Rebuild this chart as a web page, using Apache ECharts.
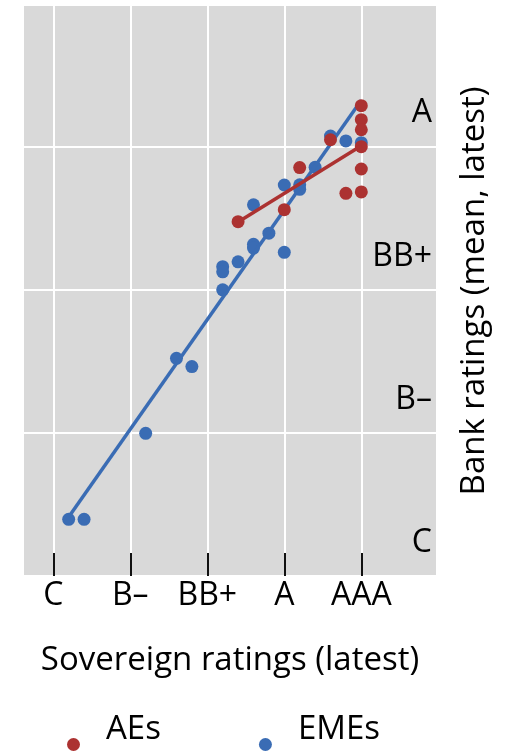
<!DOCTYPE html>
<html>
<head>
<meta charset="utf-8">
<script src="https://cdn.jsdelivr.net/npm/echarts@6/dist/echarts.min.js"></script>
<style>
  html, body { margin: 0; padding: 0; background: #ffffff; }
  #chart { width: 507px; height: 752px; }
</style>
</head>
<body>
<div id="chart"></div>
<script>
// Rating scale in notches: C = 0 ... AAA = 20
const ratingTickValues = [0, 5, 10, 15, 20];
const sovereignTickLabels = ['C', 'B–', 'BB+', 'A', 'AAA'];
const bankTickValues = [0, 5, 10, 15];
const bankTickLabels = ['C', 'B–', 'BB+', 'A'];

// Advanced economies: sovereign rating (x) vs mean bank rating (y)
const aeSovereign = [20, 20, 20, 20, 20, 20, 19, 18, 16, 15, 12];
const aeBank = [16.42, 15.93, 15.58, 14.99, 14.21, 13.41, 13.36, 15.23, 14.26, 12.79, 12.37];

// Emerging market economies
const emeSovereign = [18, 19, 20, 17, 16, 16, 15, 15, 13, 14, 13, 13, 12, 11, 11, 11, 8, 9, 6, 1, 2];
const emeBank = [15.36, 15.19, 15.13, 14.27, 13.66, 13.50, 13.65, 11.30, 12.96, 11.97, 11.58, 11.45,
                 10.97, 10.80, 10.62, 9.99, 7.60, 7.31, 4.98, 1.98, 1.98];

const RED = '#AC3231';
const BLUE = '#3A6CB4';
const FONT = '"Open Sans", "Noto Sans", sans-serif';

function pairs(xs, ys) {
  return xs.map((x, i) => [x, ys[i]]);
}

// Least-squares line drawn across the range of the group's sovereign ratings
function fitLine(xs, ys) {
  const n = xs.length;
  const mx = xs.reduce((a, b) => a + b, 0) / n;
  const my = ys.reduce((a, b) => a + b, 0) / n;
  let sxy = 0, sxx = 0;
  for (let i = 0; i < n; i++) {
    sxy += (xs[i] - mx) * (ys[i] - my);
    sxx += (xs[i] - mx) * (xs[i] - mx);
  }
  const slope = sxy / sxx;
  const x0 = Math.min(...xs), x1 = Math.max(...xs);
  return [[x0, my + slope * (x0 - mx)], [x1, my + slope * (x1 - mx)]];
}

const chart = echarts.init(document.getElementById('chart'), null, { renderer: 'canvas' });

chart.setOption({
  animation: false,
  backgroundColor: '#ffffff',
  textStyle: { fontFamily: FONT },
  grid: {
    left: 24, top: 6, width: 412, height: 570,
    show: true, backgroundColor: '#D9D9D9', borderWidth: 0
  },
  xAxis: {
    type: 'value',
    min: -1.9, max: 24.85,
    name: 'Sovereign ratings (latest)',
    nameLocation: 'middle',
    nameGap: 68,
    nameTextStyle: { fontSize: 33, color: '#000', fontFamily: FONT },
    axisLine: { show: false },
    axisTick: {
      show: true, inside: true, length: 23,
      lineStyle: { color: '#111', width: 2 },
      customValues: ratingTickValues
    },
    axisLabel: {
      customValues: ratingTickValues,
      formatter: v => sovereignTickLabels[ratingTickValues.indexOf(v)] || '',
      fontSize: 32, color: '#000', margin: 4, fontFamily: FONT
    },
    splitLine: { show: true, lineStyle: { color: '#ffffff', width: 2 } }
  },
  yAxis: {
    type: 'value',
    position: 'right',
    min: 0, max: 19.9,
    name: 'Bank ratings (mean, latest)',
    nameLocation: 'middle',
    nameRotate: 90,
    nameGap: 22,
    nameTextStyle: { fontSize: 33, color: '#000', fontFamily: FONT, verticalAlign: 'top' },
    axisLine: { show: false },
    axisTick: { show: false, customValues: bankTickValues },
    axisLabel: {
      inside: true,
      customValues: bankTickValues,
      formatter: v => bankTickLabels[bankTickValues.indexOf(v)] || '',
      fontSize: 32, color: '#000', margin: 4, fontFamily: FONT,
      verticalAlign: 'bottom', lineHeight: 66
    },
    splitLine: { show: true, lineStyle: { color: '#ffffff', width: 2 } }
  },
  legend: {
    data: ['AEs', 'EMEs'],
    left: 67, top: 713,
    padding: 0,
    icon: 'circle',
    itemWidth: 13, itemHeight: 13,
    itemGap: 98,
    // an empty second line lifts the name above its marker
    formatter: name => name + '\n ',
    textStyle: {
      fontSize: 33, color: '#000', fontFamily: FONT,
      lineHeight: 30, padding: [0, 0, 0, 21]
    }
  },
  series: [
    {
      name: 'EMEs', type: 'scatter', symbolSize: 13,
      itemStyle: { color: BLUE, opacity: 1 },
      data: pairs(emeSovereign, emeBank), z: 2
    },
    {
      name: 'EMEs', type: 'line', symbol: 'none',
      lineStyle: { color: BLUE, width: 3.5 },
      data: fitLine(emeSovereign, emeBank), z: 3
    },
    {
      name: 'AEs', type: 'scatter', symbolSize: 13,
      itemStyle: { color: RED, opacity: 1 },
      data: pairs(aeSovereign, aeBank), z: 4
    },
    {
      name: 'AEs', type: 'line', symbol: 'none',
      lineStyle: { color: RED, width: 3.5 },
      data: fitLine(aeSovereign, aeBank), z: 5
    }
  ]
});
</script>
</body>
</html>
